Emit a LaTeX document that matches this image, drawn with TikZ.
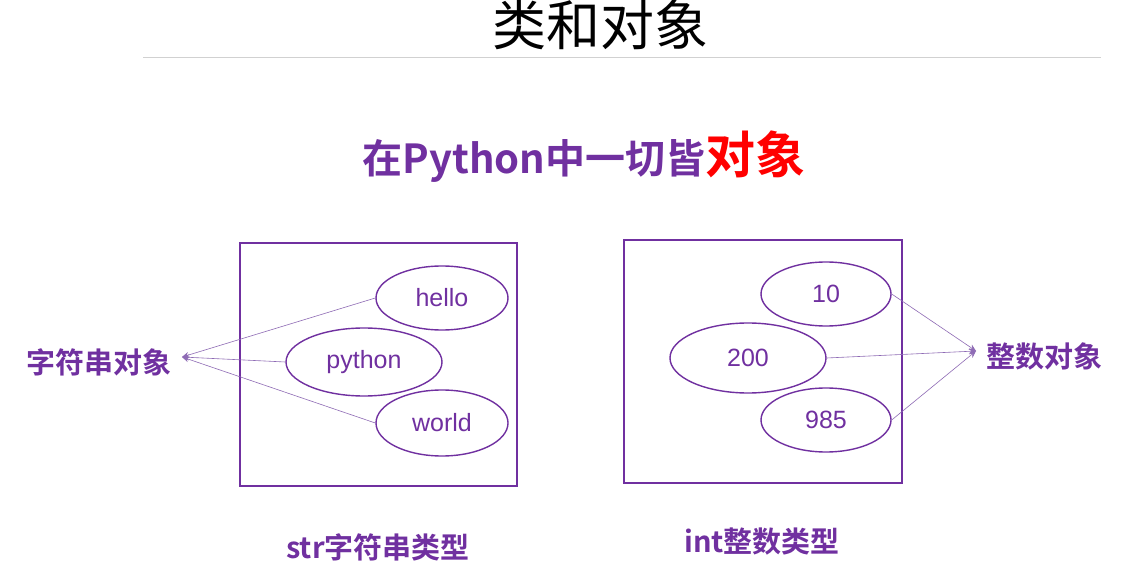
\documentclass[tikz,border=0pt]{standalone}
\usepackage{fontspec}
\setmainfont{Liberation Sans}
\newfontfamily\cjk{Noto Sans CJK SC}[BoldFont={* Bold}]
\usetikzlibrary{shapes.geometric,arrows.meta}
\definecolor{pp}{HTML}{7030A0}
\definecolor{ppl}{HTML}{8E6BB5}
\definecolor{rd}{HTML}{FF0000}
\tikzset{
  frame/.style={draw=pp,line width=1.6pt},
  obj/.style={ellipse,draw=pp,line width=1.4pt,inner sep=0pt,text=pp,font=\fontsize{25}{25}\selectfont},
  lbl/.style={text=pp,font=\cjk\bfseries\fontsize{29}{29}\selectfont,inner sep=0pt},
  link/.style={draw=ppl,line width=0.6pt,-{Stealth[length=7pt,width=6pt]}}
}
\begin{document}
\begin{tikzpicture}[x=1pt,y=-1pt]
\useasboundingbox (0,0) rectangle (1136,569);
\fill[white] (0,0) rectangle (1136,569);
% title
\node (title) at (600,25) {\cjk\fontsize{54}{54}\selectfont 类和对象};
\draw[draw=black!18,line width=1pt] (143,58) -- (1101,58);
% heading
\node[inner sep=0pt,anchor=base] (head) at (584,174) {\cjk\bfseries\fontsize{40}{40}\selectfont\color{pp}在Python中一切皆\fontsize{50}{50}\selectfont\color{rd}对象};
% left box
\draw[frame] (240,243) rectangle (517,486);
\node[obj,minimum width=132pt,minimum height=64pt] (hello) at (442,298) {hello};
\node[obj,minimum width=156pt,minimum height=68pt] (python) at (364,362) {python};
\node[obj,minimum width=132pt,minimum height=66pt] (world) at (442,423) {world};
\node[lbl] (strobj) at (99,362) {字符串对象};
\coordinate (sL) at (182,357);
\draw[link] (hello.west) -- (sL);
\draw[link] (python.west) -- (sL);
\draw[link] (world.west) -- (sL);
% right box
\draw[frame] (624,240) rectangle (902,483);
\node[obj,minimum width=130pt,minimum height=64pt] (n10) at (826,294) {10};
\node[obj,minimum width=156pt,minimum height=70pt] (n200) at (748,358) {200};
\node[obj,minimum width=130pt,minimum height=64pt] (n985) at (826,420) {985};
\node[lbl] (intobj) at (1044,356) {整数对象};
\coordinate (iR) at (976,351);
\draw[link] (n10.east) -- (iR);
\draw[link] (n200.east) -- (iR);
\draw[link] (n985.east) -- (iR);
% captions
\node[lbl] (strcap) at (378,547) {str字符串类型};
\node[lbl] (intcap) at (762,542) {int整数类型};
\end{tikzpicture}
\end{document}
